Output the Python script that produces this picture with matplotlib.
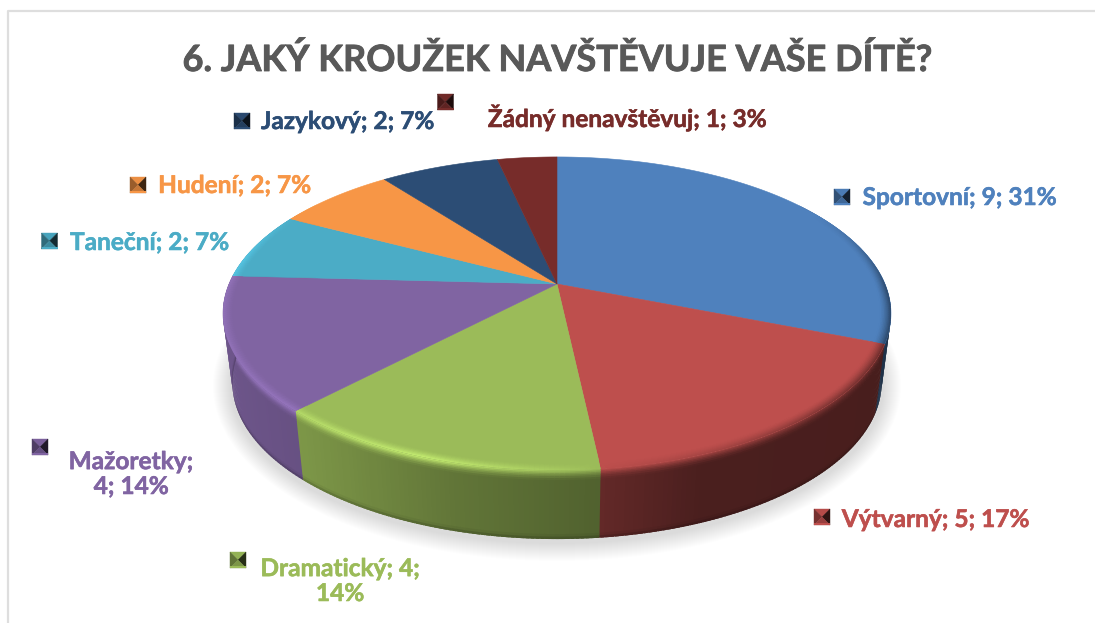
import numpy as np
import matplotlib
matplotlib.use("Agg")
import matplotlib.pyplot as plt
import matplotlib.patheffects as pe
from matplotlib.collections import PolyCollection
from matplotlib.colors import to_rgb

title = "6. JAKÝ KROUŽEK NAVŠTĚVUJE VAŠE DÍTĚ?"
names = ["Sportovní", "Výtvarný", "Dramatický", "Mažoretky", "Taneční", "Hudení", "Jazykový", "Žádný nenavštěvuj"]
values = [9, 5, 4, 4, 2, 2, 2, 1]
percents = [31, 17, 14, 14, 7, 7, 7, 3]
colors = ["#4F81BD", "#BE4F4D", "#9BBB59", "#8064A2", "#4BACC6", "#F79646", "#2C4D75", "#772C2A"]
label_x = [959.5, 935.5, 340, 131, 149.5, 234.5, 347.5, 627]
label_y = [205, 527, 601, 494, 250, 193, 129, 127]
line_breaks = [None, None, "last", "name", None, None, None, None]
key_x = [842, 822, 238, 40, 49.5, 138, 242, 445.5]
key_y = [197, 517, 560, 447, 241, 185, 121, 102]

W, H = 1095, 623
fig = plt.figure(figsize=(W / 100, H / 100), dpi=100, facecolor="white")
ax = fig.add_axes([0, 0, 1, 1])
ax.set_xlim(0, W)
ax.set_ylim(H, 0)
ax.axis("off")

# perspective of the disc
AX, AY = 557.0, 284.0
A, K, C = 151.0, 0.1885, 328.0
DROP, SX = 69.0, 0.972


def project(theta, r=1.0):
    x = r * np.sin(theta)
    y = r * np.cos(theta)
    w = 1 + K * y
    return C * x / w, -A * y / w


def mix(a, b, t):
    return tuple((1 - t) * np.array(a) + t * np.array(b))


def wall_shade(px):
    return np.interp(px, [225, 302, 450, 600, 700, 890], [0.85, 0.80, 0.63, 0.52, 0.39, 0.38])


def rim_light(px):
    return np.interp(px, [222, 300, 420, 560, 610, 750, 890], [1.14, 1.18, 1.28, 1.08, 0.98, 0.8, 0.55])


# frame
ax.plot([7.5, 7.5, W], [H, 10.5, 10.5], color="#dedede", lw=1.6, solid_capstyle="butt")

# soft shadow beneath the disc
t = np.linspace(0, 2 * np.pi, 400)
for k in range(18, 0, -1):
    ax.fill(AX + (326 + k) * np.cos(t), 386 + (157 + k) * np.sin(t),
            color="#000000", alpha=0.0095, lw=0, zorder=1)

total = sum(values)
edges = 2 * np.pi * np.cumsum([0] + values) / total

# top face
for i, col in enumerate(colors):
    th = np.linspace(edges[i], edges[i + 1], 160)
    X, Y = project(th)
    ax.fill(np.r_[AX, AX + X], np.r_[AY, AY + Y], color=col, lw=0.4, zorder=3)

# side wall and rounded rim, built as thin strips along each slice
wall_polys, wall_fcs, rim_polys, rim_fcs = [], [], [], []
inner = np.linspace(0.968, 1.0, 9)
depths = [0, 1.5, 3, 4.5, 6, 8, 10, 64, 66.5, 69]
wall_mix = [0.0, 0.2, 0.4, 0.6, 0.75, 0.9, 1.0, 1.0]
for i, col in enumerate(colors):
    base = np.array(to_rgb(col))
    n = max(8, int((edges[i + 1] - edges[i]) / (2 * np.pi) * 500))
    th = np.linspace(edges[i], edges[i + 1], n + 1)
    step = th[1] - th[0]
    for a, b0 in zip(th[:-1], th[1:]):
        b_wall = b0 + step * 0.8
        b = min(b_wall, edges[i + 1])
        mid = (a + b0) / 2
        deg = np.degrees(mid)
        weight = np.interp(deg, [60, 92, 280, 300], [0, 1, 1, 0])
        xa0, ya0 = project(a)
        xb0, yb0 = project(b_wall)
        xm = AX + (xa0 + xb0) / 2
        wall = np.clip(base * wall_shade(xm), 0, 1)
        light = np.clip(base * rim_light(xm), 0, 1)
        if 55 < deg < 305:
            stops = [mix(light, wall, m) for m in wall_mix] + [tuple(wall * 0.9), tuple(wall * 0.75)]
            for j in range(len(depths) - 1):
                d0, d1 = depths[j], depths[j + 1]
                if j < len(depths) - 2:
                    d1 = d1 + 0.8
                s0, s1 = 1 - (1 - SX) * d0 / DROP, 1 - (1 - SX) * d1 / DROP
                poly = [(AX + xa0 * s0, AY + ya0 + d0), (AX + xb0 * s0, AY + yb0 + d0),
                        (AX + xb0 * s1, AY + yb0 + d1), (AX + xa0 * s1, AY + ya0 + d1)]
                wall_polys.append(poly)
                wall_fcs.append(mix(stops[j], stops[j + 1], 0.5))
        if weight > 0:
            for j in range(len(inner) - 1):
                xa1, ya1 = project(a, inner[j])
                xb1, yb1 = project(b, inner[j])
                xa2, ya2 = project(a, min(inner[j + 1] + 0.002, 1.0))
                xb2, yb2 = project(b, min(inner[j + 1] + 0.002, 1.0))
                poly = [(AX + xa1, AY + ya1), (AX + xb1, AY + yb1), (AX + xb2, AY + yb2), (AX + xa2, AY + ya2)]
                rim_polys.append(poly)
                frac = (j + 0.5) / (len(inner) - 1)
                rim_fcs.append(mix(base, light, weight * frac ** 1.5))
ax.add_collection(PolyCollection(wall_polys, facecolors=wall_fcs, edgecolors="none", linewidths=0, zorder=2))
ax.add_collection(PolyCollection(rim_polys, facecolors=rim_fcs, edgecolors="none", linewidths=0, zorder=4))

# labels
font = dict(family="Lato", fontweight="bold")
ax.text(557.5, 71, title, ha="center", va="baseline", color="#595959", fontsize=26,
        path_effects=[pe.withStroke(linewidth=0.6, foreground="#595959")], **font)
for name, v, p, col, lx, ly, br in zip(names, values, percents, colors, label_x, label_y, line_breaks):
    txt = f"{name}; {v}; {p}%"
    if br == "last":
        txt = f"{name}; {v};\n{p}%"
    elif br == "name":
        txt = f"{name};\n{v}; {p}%"
    ax.text(lx, ly, txt, ha="center", va="baseline", color=col, fontsize=17.6, linespacing=1.1,
            multialignment="center", path_effects=[pe.withStroke(linewidth=0.4, foreground=col)], **font)

# bevelled legend keys
s = 8.0
for kx, ky, col in zip(key_x, key_y, colors):
    base = np.array(to_rgb(col))
    c = (kx, ky)
    tl, tr, br_, bl = (kx - s, ky - s), (kx + s, ky - s), (kx + s, ky + s), (kx - s, ky + s)
    for tri, f in (((tl, tr, c), 0.95), ((tl, bl, c), 0.62), ((tr, br_, c), 0.25), ((bl, br_, c), 0.8)):
        pts = np.array(tri)
        fc = tuple(np.clip(base * f, 0, 1))
        ax.fill(pts[:, 0], pts[:, 1], facecolor=fc, edgecolor=fc, lw=0.3, zorder=5)
    ax.fill([kx - s, kx + s, kx + s, kx - s], [ky + s - 2, ky + s - 2, ky + s, ky + s],
            color=tuple(base), lw=0, zorder=6)

fig.savefig("out.png", dpi=100, facecolor="white")
